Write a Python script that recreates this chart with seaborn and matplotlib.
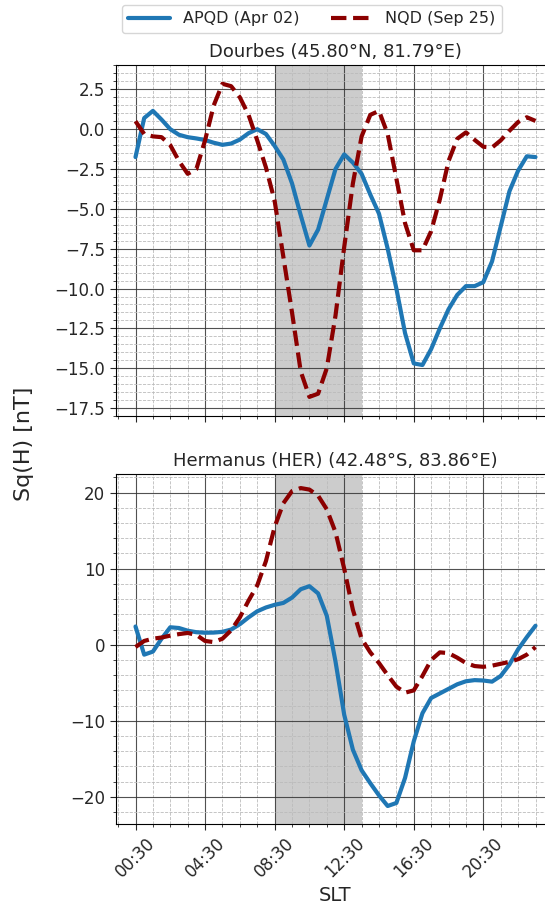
import numpy as np
import pandas as pd
import matplotlib
matplotlib.use("Agg")
import matplotlib.pyplot as plt
from matplotlib.ticker import FixedLocator, MultipleLocator
import seaborn as sns

# ---------------- data ----------------
hours = [0.5, 1.0, 1.5, 2.0, 2.5, 3.0, 3.5, 4.0, 4.5, 5.0, 5.5, 6.0, 6.5, 7.0, 7.5, 8.0,
         8.5, 9.0, 9.5, 10.0, 10.5, 11.0, 11.5, 12.0, 12.5, 13.0, 13.5, 14.0, 14.5, 15.0,
         15.5, 16.0, 16.5, 17.0, 17.5, 18.0, 18.5, 19.0, 19.5, 20.0, 20.5, 21.0, 21.5,
         22.0, 22.5, 23.0, 23.5]

dourbes_apqd = [-1.75, 0.7, 1.15, 0.6, 0.0, -0.35, -0.5, -0.58, -0.68, -0.85, -0.98, -0.9,
                -0.65, -0.25, 0.0, -0.3, -1.05, -1.9, -3.4, -5.4, -7.3, -6.3, -4.4, -2.5,
                -1.58, -2.1, -2.8, -4.1, -5.3, -7.5, -10.0, -12.8, -14.7, -14.8, -13.8,
                -12.5, -11.3, -10.4, -9.85, -9.85, -9.6, -8.3, -6.1, -3.9, -2.6, -1.7, -1.75]

dourbes_nqd = [0.5, -0.3, -0.45, -0.5, -1.0, -2.0, -2.8, -2.5, -0.7, 1.5, 2.85, 2.7, 2.0,
               0.9, -0.7, -2.4, -4.5, -8.0, -11.5, -15.2, -16.8, -16.6, -15.0, -11.7, -7.4,
               -3.4, -0.46, 0.9, 1.15, -0.3, -3.1, -5.9, -7.6, -7.6, -6.4, -4.4, -2.0, -0.6,
               -0.2, -0.67, -1.1, -1.15, -0.7, -0.1, 0.45, 0.75, 0.52]

hermanus_apqd = [2.4, -1.3, -0.9, 0.8, 2.3, 2.2, 1.85, 1.65, 1.58, 1.6, 1.7, 2.0, 2.7, 3.6,
                 4.4, 4.9, 5.25, 5.5, 6.2, 7.3, 7.7, 6.75, 3.8, -2.2, -9.2, -13.8, -16.5,
                 -18.2, -19.8, -21.2, -20.8, -17.5, -12.7, -9.0, -7.0, -6.4, -5.8, -5.2,
                 -4.8, -4.65, -4.7, -4.85, -4.1, -2.6, -0.6, 1.0, 2.5]

hermanus_nqd = [-0.3, 0.5, 0.8, 0.95, 1.2, 1.4, 1.55, 1.3, 0.5, 0.35, 0.8, 1.9, 3.6, 5.8,
                7.8, 11.0, 15.5, 18.6, 20.2, 20.6, 20.4, 19.6, 17.8, 14.8, 10.0, 4.6, 0.8,
                -1.0, -2.4, -4.0, -5.5, -6.3, -6.0, -4.1, -2.0, -1.0, -1.1, -1.7, -2.4, -2.8,
                -2.9, -2.75, -2.5, -2.25, -1.9, -1.3, -0.3]

series_labels = ["APQD (Apr 02)", "NQD (Sep 25)"]
titles = ["Dourbes (45.80°N, 81.79°E)", "Hermanus (HER) (42.48°S, 83.86°E)"]
tick_hours = [0.5, 4.5, 8.5, 12.5, 16.5, 20.5]
tick_labels = ["00:30", "04:30", "08:30", "12:30", "16:30", "20:30"]
shade_start, shade_end = 8.5, 13.5

# ---------------- style ----------------
sns.set_style("ticks")
plt.rcParams["font.family"] = ["DejaVu Sans"]

fig = plt.figure(figsize=(5.45, 9.11), dpi=100)
ax1 = fig.add_axes([115.5 / 545, 1 - 416 / 911, 440 / 545, (416 - 65) / 911])
ax2 = fig.add_axes([115.5 / 545, 1 - 823.5 / 911, 440 / 545, (823.5 - 474) / 911], sharex=ax1)

blue = "#1f77b4"
red = "#8b0000"

panels = [(ax1, dourbes_apqd, dourbes_nqd, 0.5), (ax2, hermanus_apqd, hermanus_nqd, 2)]
for i, (ax, apqd, nqd, yminor) in enumerate(panels):
    df = pd.DataFrame({"SLT": hours, "APQD": apqd, "NQD": nqd})
    sns.lineplot(data=df, x="SLT", y="APQD", ax=ax, color=blue, linewidth=3,
                 label=series_labels[0], legend=False)
    sns.lineplot(data=df, x="SLT", y="NQD", ax=ax, color=red, linewidth=3,
                 linestyle="--", label=series_labels[1], legend=False)
    ax.axvspan(shade_start, shade_end, color="gray", alpha=0.4, lw=0, zorder=0.5)
    ax.set_title(titles[i], fontsize=13, pad=6)
    ax.set_xlabel("")
    ax.set_ylabel("")
    ax.xaxis.set_major_locator(FixedLocator(tick_hours))
    ax.xaxis.set_minor_locator(FixedLocator(np.arange(-0.5, 25, 1.0)))
    ax.yaxis.set_minor_locator(MultipleLocator(yminor))
    ax.grid(which="major", color="#333333", linewidth=0.8, linestyle="-", alpha=0.85)
    ax.grid(which="minor", color="#bbbbbb", linewidth=0.6, linestyle="--")
    ax.tick_params(axis="both", which="major", labelsize=12, length=4, width=0.8, direction="out")
    ax.tick_params(axis="both", which="minor", length=2, width=0.6, direction="out")
    for sp in ax.spines.values():
        sp.set_visible(True)
        sp.set_color("black")
        sp.set_linewidth(0.8)

ax1.set_xlim(-0.65, 24.65)
ax1.set_ylim(-18.0, 4.03)
ax2.set_ylim(-23.5, 22.45)
ax1.tick_params(axis="x", labelbottom=False)
ax2.set_xticks(tick_hours)
ax2.set_xticklabels(tick_labels, rotation=45, fontsize=12)
ax2.set_xlabel("SLT", fontsize=14)

fig.text(24 / 545, 1 - 444 / 911, "Sq(H) [nT]", rotation=90, fontsize=16,
         ha="center", va="center")

handles, labels = ax1.get_legend_handles_labels()
fig.legend(handles, labels, loc="upper center", ncol=2, fontsize=11.5,
           bbox_to_anchor=(312 / 545, 1 - 5 / 911), borderaxespad=0.0, frameon=True,
           handlelength=2.6, columnspacing=2.0)

fig.savefig("out.png", dpi=100)
